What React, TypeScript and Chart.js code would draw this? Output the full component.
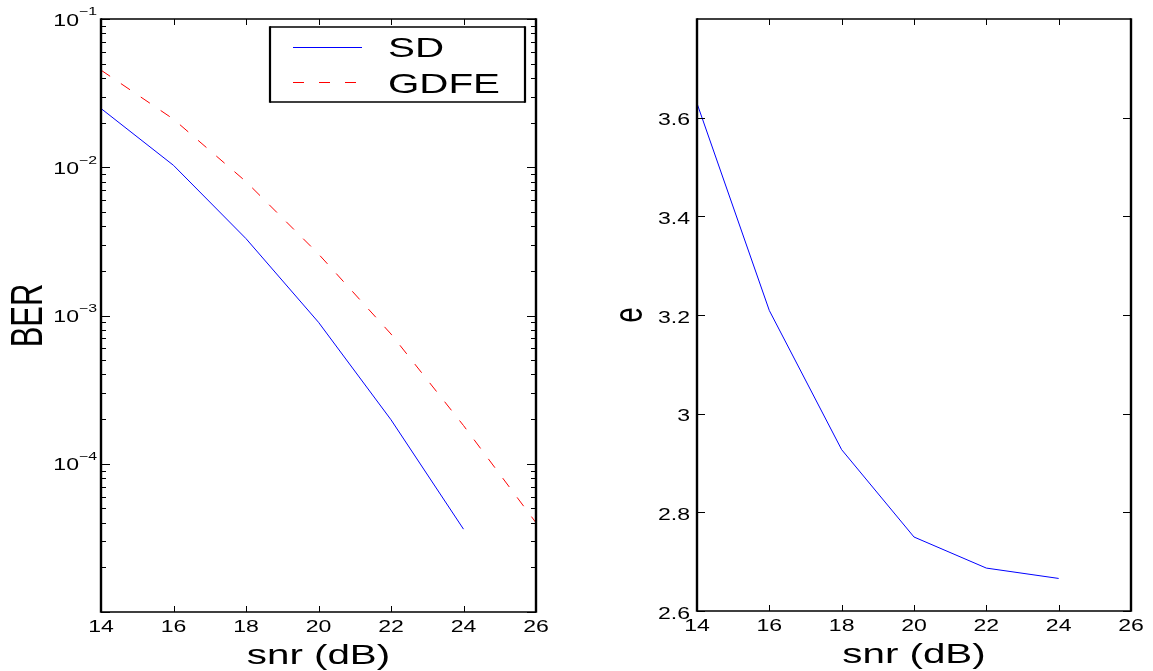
import React, { useEffect, useRef } from 'react';
import { Chart, registerables } from 'chart.js';

Chart.register(...registerables);

// ---- data ----
const snr = [14, 16, 18, 20, 22, 24, 26];
const berSD = [0.0249, 0.0103, 0.0033, 0.0009, 0.000198, 0.0000362];
const berGDFE = [0.0452, 0.0211, 0.008, 0.0026, 0.00075, 0.000181, 0.00004];
const eSD = [3.629, 3.209, 2.927, 2.75, 2.687, 2.666];

const seriesNames = ['SD', 'GDFE'];
const xTicks = [14, 16, 18, 20, 22, 24, 26];
const xTickLabels = ['14', '16', '18', '20', '22', '24', '26'];
const berLabelExponents = [-1, -2, -3, -4];
const berTickExponents = [-5, -4, -3, -2];
const berTickSignificands = [1, 2, 3, 4, 5, 6, 7, 8, 9];
const eTicks = [2.6, 2.8, 3, 3.2, 3.4, 3.6];
const eTickLabels = ['2.6', '2.8', '3', '3.2', '3.4', '3.6'];
const xTitle = 'snr (dB)';
const berTitle = 'BER';
const eTitle = 'e';

// ---- drawing helpers ----
const SX = 1.44;
const FONT = "'Liberation Sans', Arial, Helvetica, sans-serif";
const H = 671;

function sText(ctx: CanvasRenderingContext2D, text: string, x: number, y: number, size: number, align: CanvasTextAlign, rotate = false) {
  ctx.save();
  ctx.translate(x, y);
  ctx.scale(SX, 1);
  if (rotate) ctx.rotate(-Math.PI / 2);
  ctx.font = `${size}px ${FONT}`;
  ctx.textAlign = align;
  ctx.textBaseline = 'alphabetic';
  ctx.fillStyle = '#000';
  ctx.fillText(text, 0, 0);
  ctx.restore();
}

function tWidth(ctx: CanvasRenderingContext2D, text: string, size: number) {
  ctx.save();
  ctx.font = `${size}px ${FONT}`;
  const w = ctx.measureText(text).width * SX;
  ctx.restore();
  return w;
}

const matlabPlugin = {
  id: 'matlab',
  afterDraw(chart: any, _args: any, opts: any) {
    const ctx: CanvasRenderingContext2D = chart.ctx;
    const a = chart.chartArea;
    const xs = chart.scales.x;
    const ys = chart.scales.y;
    ctx.save();
    // ticks (inside, mirrored on all sides)
    ctx.strokeStyle = '#000';
    ctx.lineWidth = 1;
    ctx.beginPath();
    xs.ticks.forEach((t: any) => {
      const px = Math.round(xs.getPixelForValue(t.value)) + 0.5;
      ctx.moveTo(px, a.bottom);
      ctx.lineTo(px, a.bottom - 6);
      ctx.moveTo(px, a.top);
      ctx.lineTo(px, a.top + 6);
    });
    ys.ticks.forEach((t: any) => {
      const py = Math.round(ys.getPixelForValue(t.value)) + 0.5;
      const len = t.major ? opts.majorLen : opts.minorLen;
      ctx.moveTo(a.left, py);
      ctx.lineTo(a.left + len, py);
      ctx.moveTo(a.right, py);
      ctx.lineTo(a.right - len, py);
    });
    ctx.stroke();

    // box
    ctx.lineWidth = 1.6;
    ctx.beginPath();
    ctx.moveTo(a.left, a.top);
    ctx.lineTo(a.right, a.top);
    ctx.moveTo(a.left, a.bottom);
    ctx.lineTo(a.right, a.bottom);
    ctx.stroke();
    ctx.lineWidth = 2.4;
    ctx.beginPath();
    ctx.moveTo(a.left, a.top - 0.8);
    ctx.lineTo(a.left, a.bottom + 0.8);
    ctx.moveTo(a.right, a.top - 0.8);
    ctx.lineTo(a.right, a.bottom + 0.8);
    ctx.stroke();

    // x tick labels
    xs.ticks.forEach((t: any, i: number) => {
      const px = xs.getPixelForValue(t.value);
      sText(ctx, xTickLabels[i], px, a.bottom + 20, 16, 'center');
    });

    // y tick labels
    if (opts.logY) {
      berLabelExponents.forEach((ex) => {
        const py = ys.getPixelForValue(Math.pow(10, ex));
        const sup = '\u2212' + Math.abs(ex);
        const supW = tWidth(ctx, sup, 11);
        const rx = a.left - 4;
        sText(ctx, sup, rx, py - 3.7, 11, 'right');
        sText(ctx, '10', rx - supW, py + 6.5, 16, 'right');
      });
    } else {
      eTicks.forEach((v, i) => {
        const py = ys.getPixelForValue(v);
        sText(ctx, eTickLabels[i], a.left - 7, py + 7.5, 16, 'right');
      });
    }

    // axis titles
    sText(ctx, xTitle, (a.left + a.right) / 2, a.bottom + 51.5, 28, 'center');
    sText(ctx, opts.yTitle, a.left - opts.yTitleOffset, (a.top + a.bottom) / 2, opts.yTitleSize, 'center', true);

    // legend
    if (opts.legend) {
      const bw = 255, bh = 75;
      const bx = a.right - 11 - bw;
      const by = a.top + 8;
      ctx.fillStyle = '#fff';
      ctx.fillRect(bx, by, bw, bh);
      ctx.strokeStyle = '#000';
      ctx.lineWidth = 1.6;
      ctx.beginPath();
      ctx.moveTo(bx, by); ctx.lineTo(bx + bw, by);
      ctx.moveTo(bx, by + bh); ctx.lineTo(bx + bw, by + bh);
      ctx.stroke();
      ctx.lineWidth = 2.2;
      ctx.beginPath();
      ctx.moveTo(bx, by - 0.8); ctx.lineTo(bx, by + bh + 0.8);
      ctx.moveTo(bx + bw, by - 0.8); ctx.lineTo(bx + bw, by + bh + 0.8);
      ctx.stroke();
      chart.data.datasets.forEach((ds: any, i: number) => {
        const ly = by + 20 + i * 35;
        ctx.save();
        ctx.strokeStyle = ds.borderColor;
        ctx.lineWidth = 1;
        ctx.setLineDash(ds.borderDash && ds.borderDash.length ? [11, 15] : []);
        ctx.beginPath();
        ctx.moveTo(bx + 23, ly + 0.5);
        ctx.lineTo(bx + 92, ly + 0.5);
        ctx.stroke();
        ctx.restore();
        sText(ctx, ds.label, bx + 118, by + 29.7 + i * 36.3, 28, 'left');
      });
    }
    ctx.restore();
  },
};

function logTicks() {
  const out: any[] = [];
  berTickExponents.forEach((ex) => {
    berTickSignificands.forEach((s) => {
      out.push({ value: s * Math.pow(10, ex), major: s === 1 });
    });
  });
  out.push({ value: Math.pow(10, -1), major: true });
  return out;
}

function leftConfig(): any {
  return {
    type: 'line',
    data: {
      datasets: [
        {
          label: seriesNames[0],
          data: berSD.map((v, i) => ({ x: snr[i], y: v })),
          borderColor: '#0000ff',
          borderWidth: 1,
          pointRadius: 0,
          fill: false,
          tension: 0,
        },
        {
          label: seriesNames[1],
          data: berGDFE.map((v, i) => ({ x: snr[i], y: v })),
          borderColor: '#ff0000',
          borderWidth: 1,
          borderDash: [11, 13],
          pointRadius: 0,
          fill: false,
          tension: 0,
        },
      ],
    },
    options: {
      responsive: false,
      animation: false,
      events: [],
      layout: { padding: { left: 0, top: 19, right: 40, bottom: 0 } },
      plugins: {
        legend: { display: false },
        tooltip: { enabled: false },
        matlab: { logY: true, majorLen: 9, minorLen: 5, yTitle: berTitle, yTitleSize: 31, yTitleOffset: 59, legend: true },
      },
      scales: {
        x: {
          type: 'linear',
          min: 14,
          max: 26,
          grid: { display: false },
          border: { display: false },
          ticks: { display: false },
          afterBuildTicks: (s: any) => { s.ticks = xTicks.map((v) => ({ value: v })); },
          afterFit: (s: any) => { s.height = 59; },
        },
        y: {
          type: 'logarithmic',
          min: 1e-5,
          max: 1e-1,
          grid: { display: false },
          border: { display: false },
          ticks: { display: false },
          afterBuildTicks: (s: any) => { s.ticks = logTicks(); },
          afterFit: (s: any) => { s.width = 101; },
        },
      },
    },
    plugins: [matlabPlugin],
  };
}

function rightConfig(): any {
  return {
    type: 'line',
    data: {
      datasets: [
        {
          label: seriesNames[0],
          data: eSD.map((v, i) => ({ x: snr[i], y: v })),
          borderColor: '#0000ff',
          borderWidth: 1,
          pointRadius: 0,
          fill: false,
          tension: 0,
        },
      ],
    },
    options: {
      responsive: false,
      animation: false,
      events: [],
      layout: { padding: { left: 0, top: 19, right: 22, bottom: 0 } },
      plugins: {
        legend: { display: false },
        tooltip: { enabled: false },
        matlab: { logY: false, majorLen: 8, minorLen: 8, yTitle: eTitle, yTitleSize: 28, yTitleOffset: 55, legend: false },
      },
      scales: {
        x: {
          type: 'linear',
          min: 14,
          max: 26,
          grid: { display: false },
          border: { display: false },
          ticks: { display: false },
          afterBuildTicks: (s: any) => { s.ticks = xTicks.map((v) => ({ value: v })); },
          afterFit: (s: any) => { s.height = 60; },
        },
        y: {
          type: 'linear',
          min: 2.6,
          max: 3.8,
          grid: { display: false },
          border: { display: false },
          ticks: { display: false },
          afterBuildTicks: (s: any) => { s.ticks = eTicks.map((v) => ({ value: v, major: true })); },
          afterFit: (s: any) => { s.width = 97; },
        },
      },
    },
    plugins: [matlabPlugin],
  };
}

function ChartCanvas({ make, left, width }: { make: () => any; left: number; width: number }) {
  const ref = useRef<HTMLCanvasElement>(null);
  useEffect(() => {
    const chart = new Chart(ref.current as HTMLCanvasElement, make());
    return () => chart.destroy();
  }, []);
  return (
    <canvas
      ref={ref}
      width={width}
      height={H}
      style={{ position: 'absolute', left, top: 0, width, height: H, display: 'block' }}
    />
  );
}

export default function App() {
  return (
    <div style={{ position: 'absolute', left: 0, top: 0, width: 1153, height: H, background: '#fff', overflow: 'hidden' }}>
      <ChartCanvas make={leftConfig} left={0} width={576} />
      <ChartCanvas make={rightConfig} left={600} width={553} />
    </div>
  );
}
